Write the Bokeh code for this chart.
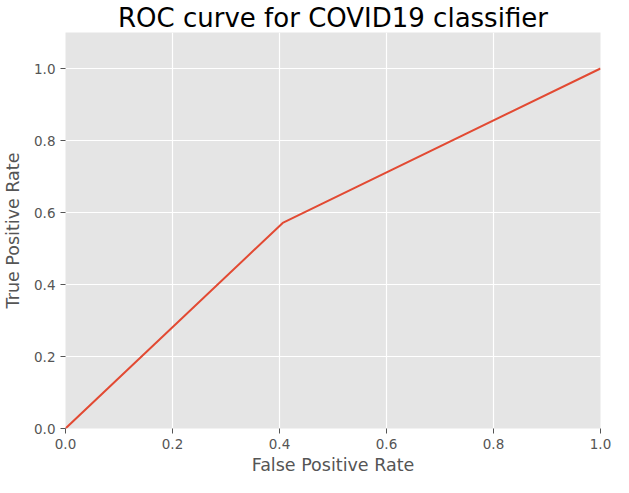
from bokeh.plotting import figure
from bokeh.models import FixedTicker, Range1d, PrintfTickFormatter
from bokeh.embed import file_html
from bokeh.resources import INLINE

fpr = [0.0, 0.406, 1.0]
tpr = [0.0, 0.571, 1.0]
ticks = [0.0, 0.2, 0.4, 0.6, 0.8, 1.0]
title_text = "ROC curve for COVID19 classifier"

FONT = "DejaVu Sans"
p = figure(width=613, height=477, output_backend="svg", toolbar_location=None,
           x_range=Range1d(0, 1), y_range=Range1d(0, 1.1),
           title=title_text,
           min_border_left=63, min_border_right=13, min_border_top=0, min_border_bottom=48)
p.title.text_font = FONT
p.title.text_font_size = "26px"
p.title.text_font_style = "normal"
p.title.text_color = "#000000"
p.title.align = "center"
p.title.standoff = 0
p.background_fill_color = "#E5E5E5"
p.border_fill_color = "white"
p.outline_line_color = None

p.line(fpr, tpr, line_color="#E24A33", line_width=2)

for ax in (p.xaxis[0], p.yaxis[0]):
    ax.ticker = FixedTicker(ticks=ticks)
    ax.formatter = PrintfTickFormatter(format="%.1f")
    ax.axis_line_color = None
    ax.major_tick_line_color = "#555555"
    ax.major_tick_in = 0
    ax.major_tick_out = 5
    ax.minor_tick_line_color = None
    ax.major_label_text_font = FONT
    ax.major_label_text_font_size = "13.5px"
    ax.major_label_text_color = "#555555"
    ax.axis_label_text_font = FONT
    ax.axis_label_text_font_size = "17.5px"
    ax.axis_label_text_font_style = "normal"
    ax.axis_label_text_color = "#555555"
    ax.major_label_standoff = 5

p.xaxis.axis_label_standoff = 3
p.yaxis.axis_label_standoff = 8
p.xaxis.axis_label = "False Positive Rate"
p.yaxis.axis_label = "True Positive Rate"

p.xgrid.ticker = FixedTicker(ticks=ticks)
p.ygrid.ticker = FixedTicker(ticks=ticks)
p.grid.grid_line_color = "white"
p.grid.grid_line_width = 1.2

open("out.html", "w").write(file_html(p, INLINE))
